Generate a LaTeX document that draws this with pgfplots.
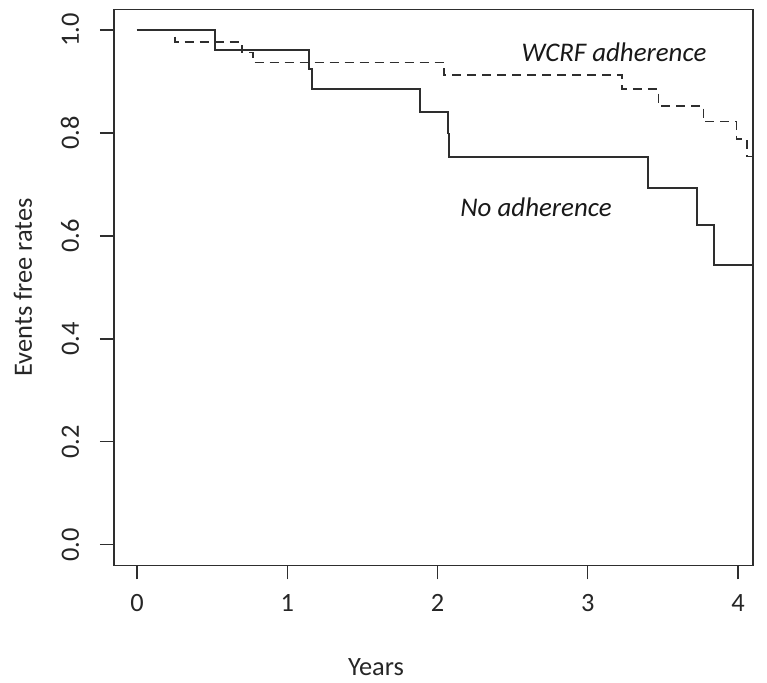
\documentclass[border=0pt]{standalone}
\usepackage{fontspec}
\setmainfont{Carlito}
\usepackage{pgfplots}
\pgfplotsset{compat=1.18}
\usetikzlibrary{calc}
\definecolor{ink}{HTML}{2E2E2E}
\begin{document}
\fontsize{26}{30}\selectfont
\begin{tikzpicture}
\begin{axis}[
  name=ax,
  scale only axis,
  width=639bp, height=556bp,
  xmin=-0.153, xmax=4.1,
  ymin=-0.04, ymax=1.04,
  xtick={0,1,2,3,4},
  ytick={0,0.2,0.4,0.6,0.8,1.0},
  yticklabels={0.0,0.2,0.4,0.6,0.8,1.0},
  tick pos=left,
  tick align=outside,
  major tick length=14bp,
  axis line style={ink, line width=1.6bp},
  every tick/.style={ink, line width=1.3bp},
  /pgf/number format/assume math mode=true,
  ticklabel style={font=\fontsize{26.5}{30}\selectfont, text=black!85},
  xticklabel style={anchor=north, yshift=-6bp},
  yticklabel style={rotate=90, anchor=south, yshift=12bp},
  xlabel={Years},
  ylabel={Events free rates},
  label style={font=\fontsize{26.5}{30}\selectfont, text=black!85},
  xlabel style={at={(axis description cs:0.41,-0.1824)}, anchor=center},
  ylabel style={at={(axis description cs:-0.1424,0.5)}, anchor=center, rotate=0},
  clip=true,
]
% No adherence (solid)
\addplot[const plot, ink, line width=1.9bp] coordinates {
  (0,1.0) (0.521,0.962) (1.147,0.924) (1.165,0.885) (1.884,0.841)
  (2.072,0.799) (2.079,0.753) (3.403,0.693) (3.725,0.621) (3.842,0.544)
  (4.1,0.544)
};
% WCRF adherence (dashed)
\addplot[const plot, ink, line width=1.7bp, dash pattern=on 9bp off 6bp] coordinates {
  (0,1.0) (0.255,0.976) (0.697,0.956) (0.774,0.937) (2.043,0.913)
  (3.226,0.885) (3.47,0.853) (3.77,0.822) (3.99,0.788) (4.058,0.754)
  (4.1,0.754)
};
\node[font=\itshape\fontsize{27}{30}\selectfont, text=black!90] at (axis cs:3.175,0.957) {WCRF adherence};
\node[font=\itshape\fontsize{27}{30}\selectfont, text=black!90] at (axis cs:2.656,0.656) {No adherence};
\end{axis}
\pgfresetboundingbox
\path ($(ax.south west)+(-114bp,-117.4bp)$) rectangle ($(ax.north east)+(14bp,9.4bp)$);
\end{tikzpicture}
\end{document}
